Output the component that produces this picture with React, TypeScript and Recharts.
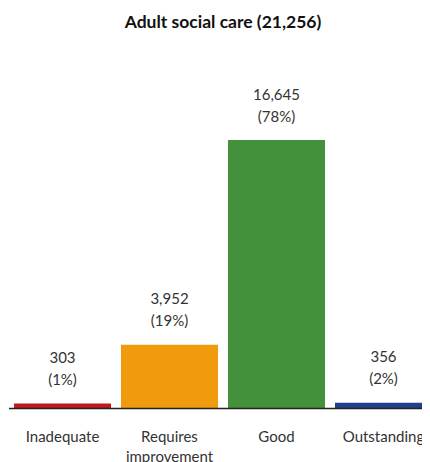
import React from "react";
import { BarChart, Bar, XAxis, YAxis, Cell, LabelList } from "recharts";

const categories = ["Inadequate", "Requires improvement", "Good", "Outstanding"];
const counts = [303, 3952, 16645, 356];
const percents = ["(1%)", "(19%)", "(78%)", "(2%)"];
const countLabels = ["303", "3,952", "16,645", "356"];
const colors = ["#c0181f", "#f29a0e", "#43913a", "#223f8f"];
const title = "Adult social care (21,256)";

const data = categories.map((c, i) => ({
  name: c,
  value: counts[i],
}));

const FONT = "Lato, 'Open Sans', sans-serif";

const BarLabel = (props: any) => {
  const { x, y, width, index } = props;
  const cx = x + width / 2;
  return (
    <g>
      <text x={cx} y={y - 40.5} textAnchor="middle" fontFamily={FONT} fontSize={15} fill="#333">
        {countLabels[index]}
      </text>
      <text x={cx} y={y - 18.5} textAnchor="middle" fontFamily={FONT} fontSize={15} fill="#333">
        {percents[index]}
      </text>
    </g>
  );
};

const Tick = (props: any) => {
  const { x, y, payload } = props;
  const words = String(payload.value).split(" ");
  return (
    <g>
      {words.map((w: string, i: number) => (
        <text
          key={i}
          x={x}
          y={y + 25 + i * 20}
          textAnchor="middle"
          fontFamily={FONT}
          fontSize={15}
          fill="#333"
        >
          {w}
        </text>
      ))}
    </g>
  );
};

export default function App() {
  return (
    <div style={{ position: "relative", width: 422, height: 454, overflow: "hidden" }}>
      <style>{`html{overflow:hidden;}`}</style>
      <div
        style={{
          position: "absolute",
          left: 0,
          width: 430,
          top: 3,
          textAlign: "center",
          fontFamily: FONT,
          fontWeight: 700,
          fontSize: 17.5,
          color: "#111",
          whiteSpace: "nowrap",
        }}
      >
        {title}
      </div>
      <BarChart
        width={430}
        height={454}
        data={data}
        margin={{ top: 132, right: 1, bottom: 23.5, left: 1 }}
      >
        <YAxis hide domain={[0, 16645]} />
        <XAxis
          dataKey="name"
          axisLine={{ stroke: "#222", strokeWidth: 1.5 }}
          tickLine={false}
          tick={<Tick />}
          height={30}
          interval={0}
        />
        <Bar dataKey="value" barSize={97} isAnimationActive={false}>
          {data.map((d, i) => (
            <Cell key={i} fill={colors[i]} />
          ))}
          <LabelList dataKey="value" content={<BarLabel />} />
        </Bar>
      </BarChart>
    </div>
  );
}
